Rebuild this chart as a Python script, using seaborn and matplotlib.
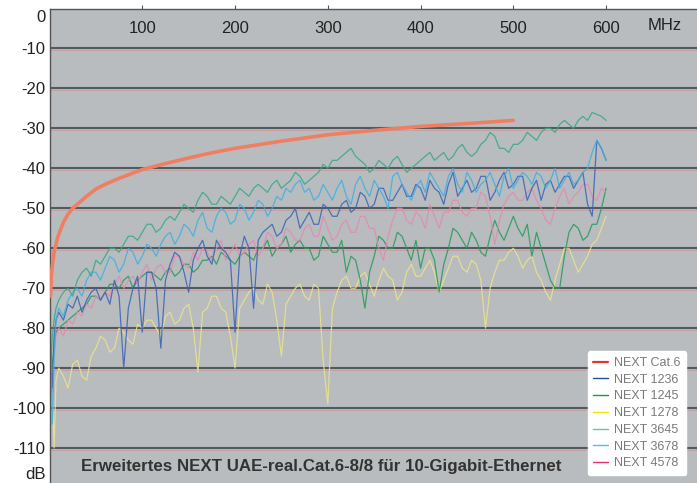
import numpy as np
import pandas as pd
import seaborn as sns
from matplotlib import pyplot as plt
from matplotlib.lines import Line2D

# NEXT Cat.6 limit curve
cat6_f = [1, 2, 3, 5, 8, 10, 15, 20, 25, 30, 40, 50, 60, 75, 100, 125, 150, 175,
          200, 250, 300, 350, 400, 450, 500]
cat6_db = [-72, -67, -64.5, -61, -58, -56.5, -53.5, -51.5, -50, -49, -47, -45.2, -44,
           -42.5, -40.3, -38.8, -37.4, -36.1, -35, -33.2, -31.6, -30.5, -29.5, -28.8, -28]

# measurement frequencies (MHz)
freq = [1, 3, 5, 7,
        10, 15, 20, 25, 30, 35, 40, 45, 50, 55, 60, 65, 70, 75, 80, 85, 90, 95, 100, 105,
        110, 115, 120, 125, 130, 135, 140, 145, 150, 155, 160, 165, 170, 175, 180, 185, 190, 195, 200, 205,
        210, 215, 220, 225, 230, 235, 240, 245, 250, 255, 260, 265, 270, 275, 280, 285, 290, 295, 300, 305,
        310, 315, 320, 325, 330, 335, 340, 345, 350, 355, 360, 365, 370, 375, 380, 385, 390, 395, 400, 405,
        410, 415, 420, 425, 430, 435, 440, 445, 450, 455, 460, 465, 470, 475, 480, 485, 490, 495, 500, 505,
        510, 515, 520, 525, 530, 535, 540, 545, 550, 555, 560, 565, 570, 575, 580, 585, 590, 595, 600]

next_1278 = [-100, -96, -110, -93,
             -90, -92, -95, -89, -88, -92, -93, -87, -85, -82, -83, -86, -85, -80, -81, -83, -84, -79, -80, -78,
             -78, -80, -82, -77, -76, -79, -78, -75, -74, -80, -91, -76, -75, -72, -72, -75, -76, -82, -90, -75,
             -73, -71, -70, -73, -74, -69, -71, -78, -87, -74, -72, -70, -69, -72, -73, -69, -70, -88, -99, -75,
             -71, -68, -67, -70, -70, -67, -66, -69, -72, -68, -65, -67, -68, -73, -71, -66, -64, -67, -67, -65,
             -63, -66, -71, -68, -65, -62, -62, -65, -66, -63, -64, -68, -80, -70, -66, -63, -63, -61, -60, -62,
             -65, -63, -62, -66, -68, -71, -73, -68, -64, -60, -60, -63, -66, -64, -62, -59, -58, -55, -52]
next_1245 = [-84, -90, -84, -81,
             -80, -79, -78, -77, -76, -75, -74, -72, -72, -73, -71, -69, -69, -70, -68, -67, -70, -68, -67, -66,
             -66, -67, -68, -66, -65, -67, -66, -64, -64, -66, -65, -63, -63, -62, -64, -61, -62, -63, -64, -62,
             -61, -62, -63, -60, -60, -58, -62, -60, -59, -57, -61, -59, -58, -60, -60, -63, -62, -57, -59, -61,
             -61, -58, -66, -62, -63, -68, -75, -66, -62, -57, -58, -60, -60, -56, -57, -60, -63, -58, -65, -60,
             -60, -63, -71, -64, -60, -55, -56, -58, -60, -56, -58, -61, -62, -57, -53, -56, -58, -55, -52, -55,
             -57, -54, -62, -56, -60, -64, -68, -70, -70, -62, -56, -54, -55, -58, -57, -54, -54, -50, -45]
next_4578 = [-92, -96, -86, -82,
             -80, -82, -78, -79, -76, -77, -74, -75, -72, -73, -71, -72, -69, -67, -70, -68, -67, -69, -66, -64,
             -68, -65, -64, -66, -66, -62, -62, -64, -65, -61, -63, -60, -61, -63, -60, -58, -63, -61, -59, -62,
             -61, -59, -58, -62, -60, -56, -57, -60, -59, -55, -56, -58, -58, -55, -54, -57, -57, -52, -55, -58,
             -57, -54, -53, -56, -56, -52, -52, -55, -55, -60, -63, -57, -53, -50, -50, -53, -54, -51, -52, -55,
             -49, -52, -55, -51, -51, -48, -48, -51, -52, -50, -50, -46, -47, -52, -59, -53, -49, -47, -46, -48,
             -48, -46, -45, -48, -50, -53, -54, -50, -47, -45, -49, -47, -46, -44, -44, -47, -48, -45, -46]
next_1236 = [-86, -95, -82, -78,
             -76, -78, -74, -75, -72, -76, -73, -71, -70, -73, -71, -74, -68, -72, -90, -75, -70, -67, -81, -66,
             -66, -70, -85, -68, -64, -61, -62, -66, -71, -63, -60, -58, -62, -64, -58, -60, -61, -63, -81, -62,
             -57, -60, -75, -58, -56, -55, -54, -57, -56, -53, -52, -50, -55, -53, -51, -54, -54, -49, -50, -52,
             -52, -49, -48, -51, -50, -46, -47, -50, -49, -45, -45, -48, -48, -46, -44, -47, -47, -44, -45, -48,
             -43, -45, -46, -49, -44, -41, -47, -45, -43, -46, -45, -42, -42, -48, -46, -43, -41, -45, -44, -42,
             -42, -48, -45, -43, -48, -44, -43, -46, -44, -42, -42, -45, -43, -41, -49, -52, -33, -35, -38]
next_3678 = [-80, -104, -88, -78,
             -75, -77, -73, -71, -70, -72, -68, -66, -66, -68, -65, -62, -63, -66, -64, -60, -61, -64, -62, -59,
             -60, -62, -59, -57, -56, -59, -57, -54, -55, -57, -53, -51, -55, -56, -52, -50, -51, -54, -53, -49,
             -50, -53, -51, -48, -49, -52, -50, -47, -48, -45, -46, -44, -43, -46, -45, -48, -47, -44, -46, -48,
             -45, -43, -47, -49, -44, -42, -45, -47, -43, -45, -47, -50, -42, -41, -44, -46, -48, -45, -43, -46,
             -41, -43, -45, -47, -42, -40, -44, -46, -41, -43, -46, -44, -43, -41, -44, -47, -42, -40, -45, -43,
             -41, -42, -44, -41, -42, -45, -43, -40, -45, -43, -41, -44, -43, -41, -40, -36, -33, -35, -38]
next_3645 = [-90, -82, -78, -75,
             -73, -71, -70, -72, -68, -66, -65, -67, -63, -64, -62, -60, -60, -61, -59, -57, -57, -58, -56, -54,
             -54, -56, -55, -53, -52, -53, -51, -49, -50, -51, -48, -46, -47, -49, -49, -47, -48, -49, -47, -45,
             -46, -47, -45, -44, -45, -46, -44, -43, -45, -44, -43, -41, -42, -44, -43, -42, -41, -39, -40, -38,
             -38, -37, -36, -35, -37, -38, -39, -41, -40, -38, -39, -40, -38, -37, -39, -41, -40, -39, -38, -37,
             -36, -38, -37, -36, -38, -37, -35, -34, -36, -37, -36, -34, -33, -31, -32, -35, -35, -36, -34, -34,
             -33, -31, -32, -33, -31, -30, -30, -31, -29, -28, -29, -30, -28, -27, -28, -26, -26.5, -27, -28]

pairs = ['NEXT 1278', 'NEXT 1245', 'NEXT 4578', 'NEXT 1236', 'NEXT 3678', 'NEXT 3645']
values = [next_1278, next_1245, next_4578, next_1236, next_3678, next_3645]
plot_colors = ['#ebe38a', '#259a5a', '#e689ae', '#3b62b5', '#3cb0e2', '#35a884']

df = pd.concat([pd.DataFrame({'MHz': freq, 'dB': v, 'pair': p}) for p, v in zip(pairs, values)])
cat6 = pd.DataFrame({'MHz': cat6_f, 'dB': cat6_db})

sns.set_theme(style='white')
plt.rcParams['font.family'] = ['Liberation Sans', 'DejaVu Sans']
plt.rcParams['axes.unicode_minus'] = False

fig = plt.figure(figsize=(6.97, 4.83), dpi=100)
ax = fig.add_axes([49.5 / 697, 0, 1 - 49.5 / 697, 1 - 8.5 / 483])
ax.set_facecolor('#b8bcbf')

# grid lines: dark line with a faint reddish shade below
for y in range(-10, -111, -10):
    ax.axhline(y, color='#4f5b63', lw=1.5, zorder=1)
    ax.axhline(y - 0.42, color='#c79c98', lw=0.6, zorder=1)

sns.lineplot(data=df, x='MHz', y='dB', hue='pair', palette=dict(zip(pairs, plot_colors)),
             hue_order=pairs, lw=0.9, alpha=0.85, legend=False, ax=ax, zorder=2)
sns.lineplot(data=cat6, x='MHz', y='dB', color='#ef7f62', lw=2.6, ax=ax, zorder=3)

ax.set_xlim(0, 698)
ax.set_ylim(-118.75, 0)
ax.set_xlabel('')
ax.set_ylabel('')

ax.xaxis.tick_top()
ax.set_xticks([100, 200, 300, 400, 500, 600])
ax.tick_params(axis='x', direction='out', length=3, width=0.8, color='#555555',
               pad=-23, labelsize=12, labelcolor='#222222')
ax.set_yticks(list(range(-10, -111, -10)))
ax.tick_params(axis='y', length=0, pad=3, labelsize=12, labelcolor='#222222')

for s in ['right', 'bottom']:
    ax.spines[s].set_visible(False)
for s in ['left', 'top']:
    ax.spines[s].set_color('#555555')
    ax.spines[s].set_linewidth(1.0)

ax.text(-3.5 / 0.928, -0.3, '0', ha='right', va='top', fontsize=12, color='#222222', clip_on=False)
ax.text(663, 1 - (26 - 8.5) / 474.5, 'MHz', transform=ax.get_xaxis_transform(),
        ha='center', va='center', fontsize=12, color='#222222')
ax.text(-3.5 / 0.928, -116.6, 'dB', ha='right', va='center', fontsize=12,
        color='#222222', clip_on=False)
ax.text(34, -114.5, 'Erweitertes NEXT UAE-real.Cat.6-8/8 für 10-Gigabit-Ethernet',
        ha='left', va='center', fontsize=12.2, fontweight='bold', color='#333333')

legend_labels = ['NEXT Cat.6', 'NEXT 1236', 'NEXT 1245', 'NEXT 1278',
                 'NEXT 3645', 'NEXT 3678', 'NEXT 4578']
legend_colors = ['#e8302c', '#2050a0', '#10a040', '#f0e010', '#60c8a0', '#50c0e8', '#e03070']
handles = [Line2D([], [], color=c, lw=1.6 if i == 0 else 1.0) for i, c in enumerate(legend_colors)]
leg = ax.legend(handles, legend_labels, loc='lower right', bbox_to_anchor=(686 / 697, 8 / 483),
                bbox_transform=fig.transFigure, fontsize=9, labelcolor='#7a7a7a',
                frameon=True, fancybox=True, framealpha=1, edgecolor='white',
                handlelength=1.2, handletextpad=0.45, labelspacing=0.38,
                borderpad=0.45, borderaxespad=0)
leg.get_frame().set_facecolor('white')

fig.savefig('out.png', dpi=100)
